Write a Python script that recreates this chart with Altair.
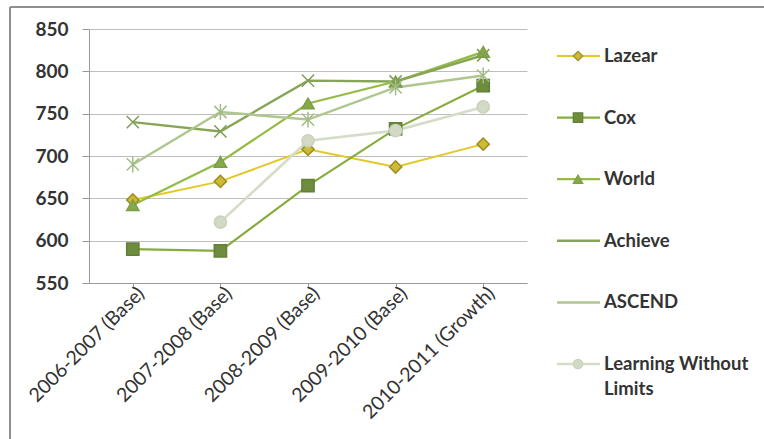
import altair as alt
import pandas as pd

years = ["2006-2007 (Base)", "2007-2008 (Base)", "2008-2009 (Base)",
         "2009-2010 (Base)", "2010-2011 (Growth)"]
series = ["Lazear", "Cox", "World", "Achieve", "ASCEND", "Learning Without Limits"]

lazear = [648, 670, 708, 687, 714]
cox = [590, 588, 665, 732, 783]
world = [642, 693, 762, 788, 823]
achieve = [740, 729, 789, 788, 819]
ascend = [690, 752, 743, 781, 795]
lwl = [None, 622, 718, 730, 758]

values = [lazear, cox, world, achieve, ascend, lwl]

line_colors = ["#E4C826", "#86AC3E", "#93BB45", "#86A655", "#AFC68F", "#D5DDC8"]
fill_colors = ["#CDBB35", "#6E8C3C", "#86A94A", "transparent", "transparent", "#D2DAC6"]
stroke_colors = ["#9C8E22", "#62803A", "#7C9E44", "#7F9D55", "#A4BC85", "#C9D2BC"]
shapes = ["diamond", "square", "triangle-up",
          "M-1,-1L1,1M-1,1L1,-1",
          "M-1,-1L1,1M-1,1L1,-1M0,-1.3L0,1.3",
          "circle"]
widths = [2, 2.6, 2.6, 3.4, 3, 2.2]
marker_sizes = [150, 150, 150, 120, 130, 150]

legend_labels = ["Lazear", "Cox", "World", "Achieve", "ASCEND", "Learning Without\nLimits"]
legend_show_marker = [True, True, True, False, False, True]

rows = []
for s, vals in zip(series, values):
    for y, v in zip(years, vals):
        if v is not None:
            rows.append({"series": s, "year": y, "value": v})
df = pd.DataFrame(rows)

leg = pd.DataFrame({"series": series, "label": legend_labels, "marker": legend_show_marker})

FONT = "Lato"

color_scale = alt.Scale(domain=series, range=line_colors)
fill_scale = alt.Scale(domain=series, range=fill_colors)
stroke_scale = alt.Scale(domain=series, range=stroke_colors)
shape_scale = alt.Scale(domain=series, range=shapes)
width_scale = alt.Scale(domain=series, range=widths)
msize_scale = alt.Scale(domain=series, range=marker_sizes)

x_enc = alt.X("year:N", sort=years, title=None,
              scale=alt.Scale(paddingInner=0, paddingOuter=0),
              axis=alt.Axis(labelAngle=-45, labelAlign="right", labelBaseline="middle",
                            labelFont=FONT, labelFontSize=19.5, labelColor="#333333",
                            labelPadding=3, tickSize=4, tickColor="#9a9a9a",
                            bandPosition=0, domainColor="#9a9a9a", domainWidth=1,
                            grid=False, labelOffset=8))
y_enc = alt.Y("value:Q", title=None,
              scale=alt.Scale(domain=[550, 850], nice=False, zero=False),
              axis=alt.Axis(values=[550, 600, 650, 700, 750, 800, 850],
                            labelFont=FONT, labelFontSize=19, labelFontWeight="bold",
                            labelColor="#333333", labelPadding=14, tickSize=7,
                            tickColor="#9a9a9a", domainColor="#9a9a9a",
                            gridColor="#bdbdbd", gridWidth=1))

base = alt.Chart(df)
lines = base.mark_line().encode(
    x=x_enc, y=y_enc,
    color=alt.Color("series:N", scale=color_scale, legend=None),
    strokeWidth=alt.StrokeWidth("series:N", scale=width_scale, legend=None),
    detail="series:N",
)
pts = base.mark_point(strokeWidth=1.5, opacity=1).encode(
    x=alt.X("year:N", sort=years),
    y=alt.Y("value:Q"),
    fill=alt.Fill("series:N", scale=fill_scale, legend=None),
    stroke=alt.Stroke("series:N", scale=stroke_scale, legend=None),
    shape=alt.Shape("series:N", scale=shape_scale, legend=None),
    size=alt.Size("series:N", scale=msize_scale, legend=None),
)
main = alt.layer(lines, pts)

ly = alt.Y("series:N", sort=series, axis=None,
           scale=alt.Scale(type="point", range=[27, 335], padding=0))
lbase = alt.Chart(leg)
lrule = lbase.mark_rule().encode(
    x=alt.value(468), x2=alt.value(511), y=ly,
    color=alt.Color("series:N", scale=color_scale, legend=None),
    strokeWidth=alt.StrokeWidth("series:N", scale=width_scale, legend=None),
)
lpts = lbase.transform_filter("datum.marker").mark_point(strokeWidth=1.2, opacity=1, size=90).encode(
    x=alt.value(489), y=ly,
    fill=alt.Fill("series:N", scale=fill_scale, legend=None),
    stroke=alt.Stroke("series:N", scale=stroke_scale, legend=None),
    shape=alt.Shape("series:N", scale=shape_scale, legend=None),
)
ltext = lbase.mark_text(align="left", baseline="alphabetic", dy=6, font=FONT,
                        fontSize=18.5, fontWeight="bold", color="#333333",
                        lineBreak="\n", lineHeight=25).encode(
    x=alt.value(515), y=ly, text="label:N",
)
legend = alt.layer(lrule, lpts, ltext)

frame = alt.Chart(pd.DataFrame({"k": [0]})).mark_rule(color="#8f8f8f", strokeWidth=2).encode(
    x=alt.value(-79), x2=alt.value(680), y=alt.value(-22), y2=alt.value(-22))
frame2 = alt.Chart(pd.DataFrame({"k": [0]})).mark_rule(color="#8f8f8f", strokeWidth=2).encode(
    x=alt.value(-79), x2=alt.value(-79), y=alt.value(-22), y2=alt.value(420))

chart = alt.layer(main, legend, frame, frame2).resolve_scale(
    y="independent", x="independent"
).properties(
    width=438, height=254,
    autosize=alt.AutoSizeParams(type="none"),
    padding={"left": 89, "top": 29, "right": 237, "bottom": 156},
    background="white",
).configure_view(stroke=None)

chart.save("out.html", embed_options={"renderer": "svg", "actions": False})
